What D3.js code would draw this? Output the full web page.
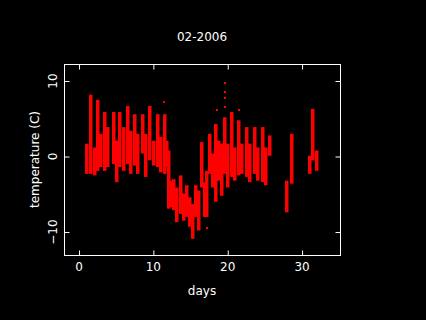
<!DOCTYPE html>
<html>
<head>
<meta charset="utf-8">
<script src="https://cdn.jsdelivr.net/npm/d3@7"></script>
<style>
  body { margin: 0; background: #000; }
  svg { display: block; }
  text { font-family: "DejaVu Sans", sans-serif; font-size: 12px; fill: #fff; }
</style>
</head>
<body>
<script>
var width = 426;
var height = 320;

var title = '02-2006';
var xLabel = 'days';
var yLabel = 'temperature (C)';
var xTicks = [0, 10, 20, 30];
var yTicks = [-10, 0, 10];

// daily swings, one vertical run of readings per half day
var streakDays = [1.03, 1.61, 2.11, 2.60, 3.00, 3.50, 3.95, 4.66, 5.11, 5.52, 6.01, 6.55, 7.04, 7.53, 7.89,
  8.61, 9.06, 9.60, 10.04, 10.58, 11.03, 11.52, 11.84, 12.11, 12.47, 12.83, 13.23, 13.68, 14.08, 14.57,
  14.93, 15.34, 15.70, 16.19, 16.50, 16.95, 17.26, 17.67, 18.03, 18.39, 18.83, 19.28, 19.64, 20.09, 20.58,
  20.99, 21.52, 21.88, 22.60, 23.05, 23.68, 24.13, 24.75, 25.20, 25.74, 28.03, 28.61, 31.03, 31.52, 32.06];
var streakHigh = [1.7, 8.2, 1.2, 7.5, 3.0, 5.9, 3.9, 5.9, 2.1, 5.9, 3.9, 6.7, 3.4, 5.6, 3.0,
  5.6, 3.0, 6.7, 2.1, 5.6, 2.6, 5.6, 2.1, 0.8, -3.2, -3.0, -4.1, -2.5, -4.9, -3.8,
  -5.4, -6.3, -3.8, -4.5, 1.9, -3.4, -1.9, 3.0, 0.4, 4.3, 2.1, 1.7, 5.2, 1.7, 5.9,
  1.2, 4.8, 1.7, 3.9, 1.7, 3.9, 1.2, 3.9, 1.2, 2.8, -3.2, 3.0, 0.1, 6.3, 0.8];
var streakLow = [-2.3, -2.3, -2.5, -1.9, -1.4, -1.9, -1.4, -1.0, -3.4, -1.4, -1.9, -1.0, -2.3, -1.2, -2.3,
  0.4, -2.7, -0.5, -1.2, -1.4, -2.1, -2.3, -1.4, -6.9, -6.7, -7.1, -8.7, -7.6, -8.5, -8.0,
  -9.3, -10.9, -8.0, -9.8, -4.1, -8.0, -8.0, -2.3, -4.1, -6.0, -3.2, -5.2, -2.3, -4.1, -2.7,
  -3.2, -2.5, -2.3, -2.7, -3.4, -2.3, -3.2, -3.4, -3.8, 0.1, -7.4, -3.6, -2.3, -0.5, -1.9];

// isolated readings away from the runs
var spikeDays = [11.43, 18.57, 19.6, 19.6, 19.6, 19.6, 21.52, 17.22];
var spikeTemps = [7.2, 6.2, 9.7, 8.5, 7.8, 6.5, 6.2, -9.5];

var margin = { top: 64, right: 86, bottom: 65, left: 64 };

var svg = d3.select('body').append('svg')
  .attr('width', width)
  .attr('height', height)
  .style('background', '#000');

var x = d3.scaleLinear().domain([-2.02, 35.1]).range([margin.left, width - margin.right]);
var y = d3.scaleLinear().domain([-13.04, 12.25]).range([height - margin.bottom, margin.top]);

var streaks = streakDays.map(function (d, i) {
  return { day: d, lo: streakLow[i], hi: streakHigh[i] };
});

svg.append('g')
  .selectAll('rect')
  .data(streaks)
  .enter().append('rect')
  .attr('x', function (d) { return Math.round(x(d.day) - 2); })
  .attr('y', function (d) { return y(d.hi); })
  .attr('width', 3.5)
  .attr('height', function (d) { return y(d.lo) - y(d.hi); })
  .attr('fill', '#ff0000');

svg.append('g')
  .selectAll('rect')
  .data(spikeDays)
  .enter().append('rect')
  .attr('x', function (d) { return Math.round(x(d) - 1); })
  .attr('y', function (d, i) { return Math.round(y(spikeTemps[i]) - 1); })
  .attr('width', 2)
  .attr('height', 2)
  .attr('fill', '#ff0000');

// box with inward ticks on all four sides
var x0 = x.range()[0], x1 = x.range()[1], y0 = y.range()[1], y1 = y.range()[0];
svg.append('rect')
  .attr('x', x0 + 0.5)
  .attr('y', y0 + 0.5)
  .attr('width', x1 - x0)
  .attr('height', y1 - y0)
  .attr('fill', 'none')
  .attr('stroke', '#fff');

var tk = 5;
svg.append('g').attr('transform', 'translate(0,' + (y1 + 0.5) + ')')
  .call(d3.axisTop(x).tickValues(xTicks).tickSize(tk).tickFormat(''));
svg.append('g').attr('transform', 'translate(0,' + (y0 + 0.5) + ')')
  .call(d3.axisBottom(x).tickValues(xTicks).tickSize(tk).tickFormat(''));
svg.append('g').attr('transform', 'translate(' + (x0 + 0.5) + ',0)')
  .call(d3.axisRight(y).tickValues(yTicks).tickSize(tk).tickFormat(''));
svg.append('g').attr('transform', 'translate(' + (x1 + 0.5) + ',0)')
  .call(d3.axisLeft(y).tickValues(yTicks).tickSize(tk).tickFormat(''));

svg.selectAll('.domain').remove();
svg.selectAll('.tick line').attr('stroke', '#fff');

svg.append('g')
  .selectAll('text')
  .data(xTicks)
  .enter().append('text')
  .attr('x', function (d) { return x(d); })
  .attr('y', 271)
  .attr('text-anchor', 'middle')
  .text(function (d) { return d; });

svg.append('g')
  .selectAll('text')
  .data(yTicks)
  .enter().append('text')
  .attr('transform', function (d) { return 'translate(57,' + y(d) + ') rotate(-90)'; })
  .attr('text-anchor', 'middle')
  .text(function (d) { return d < 0 ? '\u2212' + Math.abs(d) : d; });

svg.append('text')
  .attr('x', (x0 + x1) / 2)
  .attr('y', 41)
  .attr('text-anchor', 'middle')
  .text(title);

svg.append('text')
  .attr('x', (x0 + x1) / 2)
  .attr('y', 295)
  .attr('text-anchor', 'middle')
  .text(xLabel);

svg.append('text')
  .attr('transform', 'translate(39,' + (y0 + y1) / 2 + ') rotate(-90)')
  .attr('text-anchor', 'middle')
  .text(yLabel);
</script>
</body>
</html>
